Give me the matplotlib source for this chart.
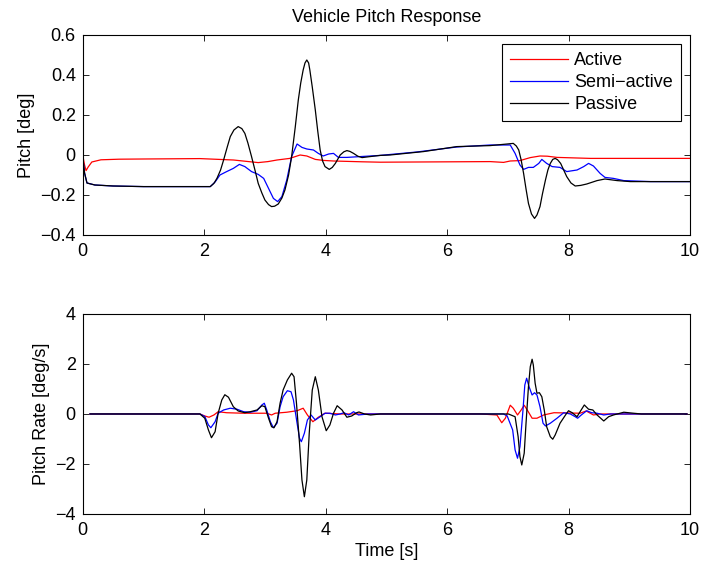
import matplotlib
matplotlib.use("Agg")
import matplotlib.pyplot as plt
from matplotlib.ticker import FuncFormatter

plt.rcParams["font.family"] = ["Liberation Sans", "DejaVu Sans"]

# pitch [deg] : (time s, value)
pitch_active = [
    (0.00, 0.000), (0.03, -0.050), (0.055, -0.078), (0.09, -0.060), (0.15, -0.035),
    (0.30, -0.024), (0.60, -0.021), (1.00, -0.020), (1.93, -0.018), (2.48, -0.025),
    (2.70, -0.032), (2.89, -0.038), (3.05, -0.033), (3.20, -0.025), (3.41, -0.017),
    (3.58, 0.000), (3.69, -0.005), (3.83, -0.022), (3.96, -0.027), (4.13, -0.030),
    (4.60, -0.034), (4.90, -0.036), (6.71, -0.033), (6.93, -0.037), (7.04, -0.030),
    (7.20, -0.028), (7.37, -0.013), (7.53, -0.005), (7.65, -0.006), (7.81, -0.012),
    (8.36, -0.017), (10.0, -0.017),
]
pitch_semi = [
    (0.00, -0.010), (0.03, -0.090), (0.07, -0.140), (0.20, -0.150), (0.50, -0.155),
    (1.00, -0.158), (2.10, -0.158), (2.18, -0.135), (2.26, -0.100), (2.37, -0.083),
    (2.48, -0.067), (2.58, -0.047), (2.67, -0.058), (2.78, -0.083), (2.89, -0.097),
    (2.98, -0.117), (3.06, -0.167), (3.14, -0.217), (3.21, -0.233), (3.28, -0.208),
    (3.36, -0.125), (3.44, -0.008), (3.53, 0.055), (3.61, 0.038), (3.69, 0.030),
    (3.80, 0.025), (3.88, 0.008), (3.96, -0.005), (4.05, 0.005), (4.13, 0.008),
    (4.21, -0.012), (4.35, -0.012), (4.57, -0.008), (4.90, -0.002), (5.50, 0.015),
    (6.16, 0.040), (6.71, 0.050), (7.04, 0.050), (7.12, 0.008), (7.20, -0.050),
    (7.26, -0.072), (7.34, -0.062), (7.42, -0.062), (7.51, -0.042), (7.56, -0.022),
    (7.64, -0.042), (7.73, -0.058), (7.86, -0.062), (7.97, -0.083), (8.14, -0.075),
    (8.25, -0.058), (8.33, -0.042), (8.41, -0.055), (8.52, -0.092), (8.60, -0.112),
    (8.74, -0.117), (8.91, -0.128), (9.35, -0.133), (10.0, -0.133),
]
pitch_passive = [
    (0.00, -0.010), (0.03, -0.090), (0.07, -0.140), (0.20, -0.150), (0.50, -0.155),
    (1.00, -0.158), (2.10, -0.158), (2.16, -0.142), (2.21, -0.117), (2.27, -0.075),
    (2.32, -0.025), (2.38, 0.040), (2.43, 0.092), (2.49, 0.125), (2.56, 0.142),
    (2.62, 0.132), (2.67, 0.108), (2.72, 0.060), (2.78, -0.008), (2.84, -0.080),
    (2.89, -0.142), (2.95, -0.190), (3.00, -0.225), (3.06, -0.248), (3.11, -0.258),
    (3.16, -0.256), (3.22, -0.245), (3.28, -0.215), (3.33, -0.175), (3.39, -0.100),
    (3.44, -0.008), (3.50, 0.140), (3.55, 0.275), (3.59, 0.360), (3.63, 0.425),
    (3.66, 0.460), (3.69, 0.475), (3.72, 0.460), (3.74, 0.425), (3.78, 0.340),
    (3.83, 0.225), (3.87, 0.120), (3.91, 0.025), (3.95, -0.030), (3.99, -0.058),
    (4.06, -0.072), (4.11, -0.062), (4.16, -0.042), (4.24, 0.000), (4.30, 0.016),
    (4.35, 0.022), (4.40, 0.018), (4.46, 0.008), (4.53, -0.006), (4.60, -0.013),
    (4.73, -0.008), (4.90, -0.002), (5.06, 0.000), (5.61, 0.017), (6.16, 0.042),
    (6.71, 0.047), (6.99, 0.055), (7.09, 0.058), (7.14, 0.045), (7.18, 0.025),
    (7.22, -0.025), (7.26, -0.092), (7.30, -0.170), (7.34, -0.242), (7.39, -0.295),
    (7.44, -0.317), (7.48, -0.300), (7.53, -0.258), (7.57, -0.195), (7.62, -0.125),
    (7.66, -0.075), (7.70, -0.042), (7.74, -0.022), (7.78, -0.017), (7.82, -0.024),
    (7.87, -0.042), (7.92, -0.075), (7.97, -0.108), (8.04, -0.140), (8.11, -0.155),
    (8.20, -0.152), (8.30, -0.145), (8.47, -0.128), (8.60, -0.120), (8.80, -0.128),
    (9.02, -0.133), (9.35, -0.133), (10.0, -0.133),
]

# pitch rate [deg/s] : (time s, value)
rate_active = [
    (0.12, 0.0), (1.93, 0.0), (2.01, -0.08), (2.08, -0.13), (2.16, -0.04), (2.23, 0.09),
    (2.37, 0.05), (2.65, 0.03), (3.03, 0.03), (3.11, -0.04), (3.17, 0.03), (3.36, 0.07),
    (3.53, 0.13), (3.63, 0.23), (3.70, -0.04), (3.79, -0.31), (3.88, -0.13), (3.99, 0.03),
    (4.24, 0.0), (6.55, 0.0), (6.82, -0.04), (6.90, -0.35), (6.96, -0.17), (7.04, 0.35),
    (7.09, 0.23), (7.16, -0.04), (7.22, 0.16), (7.27, 0.35), (7.32, 0.16), (7.40, -0.17),
    (7.48, -0.17), (7.59, -0.04), (7.76, 0.05), (8.19, 0.03), (8.29, 0.12), (8.41, -0.04),
    (8.52, 0.0), (9.95, 0.0),
]
rate_semi = [
    (0.12, 0.0), (1.93, 0.0), (2.01, -0.10), (2.07, -0.44), (2.11, -0.55), (2.18, -0.31),
    (2.23, 0.03), (2.32, 0.16), (2.43, 0.23), (2.54, 0.19), (2.65, 0.09), (2.76, 0.07),
    (2.87, 0.13), (2.95, 0.36), (2.99, 0.43), (3.03, 0.16), (3.09, -0.31), (3.14, -0.55),
    (3.20, -0.37), (3.25, 0.29), (3.30, 0.69), (3.37, 0.93), (3.43, 0.89), (3.47, 0.56),
    (3.53, -0.37), (3.57, -0.97), (3.60, -1.11), (3.65, -0.77), (3.70, -0.24), (3.76, -0.04),
    (3.83, -0.24), (3.91, -0.11), (3.99, 0.03), (4.07, 0.03), (4.16, -0.04), (4.24, 0.0),
    (4.30, 0.05), (4.38, -0.04), (4.46, 0.09), (4.54, -0.04), (4.70, 0.0), (6.93, 0.0),
    (6.99, -0.08), (7.08, -0.64), (7.12, -1.44), (7.16, -1.77), (7.20, -1.31), (7.25, 0.16),
    (7.28, 1.16), (7.31, 1.43), (7.35, 1.09), (7.40, 0.76), (7.44, 0.85), (7.48, 0.76),
    (7.53, 0.29), (7.58, -0.37), (7.62, -0.48), (7.70, -0.37), (7.81, -0.17), (7.92, 0.05),
    (8.03, 0.0), (8.11, -0.11), (8.15, -0.17), (8.21, -0.04), (8.30, 0.13), (8.38, 0.05),
    (8.47, 0.03), (8.58, -0.04), (8.69, 0.0), (9.95, 0.0),
]
rate_passive = [
    (0.12, 0.0), (1.93, 0.0), (2.01, -0.17), (2.07, -0.64), (2.12, -0.95), (2.18, -0.71),
    (2.23, 0.03), (2.29, 0.56), (2.34, 0.77), (2.40, 0.67), (2.48, 0.29), (2.56, 0.12),
    (2.67, 0.05), (2.76, 0.09), (2.87, 0.16), (2.95, 0.33), (3.00, 0.29), (3.06, -0.17),
    (3.11, -0.51), (3.15, -0.55), (3.20, -0.31), (3.25, 0.43), (3.30, 0.96), (3.37, 1.36),
    (3.44, 1.63), (3.48, 1.49), (3.52, 0.43), (3.57, -1.17), (3.61, -2.64), (3.65, -3.31),
    (3.69, -2.64), (3.73, -0.77), (3.78, 0.96), (3.83, 1.49), (3.88, 0.96), (3.94, -0.11),
    (4.01, -0.67), (4.07, -0.44), (4.13, 0.03), (4.19, 0.33), (4.27, 0.16), (4.35, -0.13),
    (4.43, -0.08), (4.51, 0.05), (4.55, 0.08), (4.64, 0.0), (4.74, -0.04), (4.90, 0.0),
    (7.01, 0.0), (7.12, -0.11), (7.17, -0.91), (7.20, -1.71), (7.23, -2.04), (7.27, -1.57),
    (7.30, -0.37), (7.34, 1.09), (7.37, 1.89), (7.40, 2.19), (7.42, 1.96), (7.45, 1.23),
    (7.48, 0.83), (7.52, 0.85), (7.56, 0.69), (7.60, 0.16), (7.64, -0.51), (7.70, -0.91),
    (7.74, -1.01), (7.78, -0.84), (7.86, -0.37), (7.95, -0.04), (8.00, 0.13), (8.06, 0.05),
    (8.14, -0.11), (8.19, 0.09), (8.26, 0.36), (8.33, 0.19), (8.40, 0.16), (8.47, -0.04),
    (8.58, -0.28), (8.66, -0.11), (8.74, -0.04), (8.91, 0.07), (9.07, 0.03), (9.20, 0.0),
    (9.95, 0.0),
]

labels = ["Active", "Semi\u2212active", "Passive"]
colors = ["#ff0000", "#0000ff", "#000000"]
x_ticks = [0, 2, 4, 6, 8, 10]
pitch_ticks = [-0.4, -0.2, 0, 0.2, 0.4, 0.6]
rate_ticks = [-4, -2, 0, 2, 4]

FS = 13


def fmt(v, _pos):
    return ("%g" % round(v, 6)).replace("-", "\u2212")


def style(ax):
    ax.set_xlim(0, 10)
    ax.set_xticks(x_ticks)
    ax.xaxis.set_major_formatter(FuncFormatter(fmt))
    ax.yaxis.set_major_formatter(FuncFormatter(fmt))
    ax.tick_params(direction="in", top=True, right=True, length=4, width=0.6,
                   labelsize=FS, pad=5)
    ax.tick_params(axis="x", pad=6)
    for s in ax.spines.values():
        s.set_linewidth(0.8)


fig = plt.figure(figsize=(7.04, 5.69), dpi=100)
ax1 = fig.add_axes([0.1175, 0.587, 0.8626, 0.3515])
ax2 = fig.add_axes([0.1175, 0.0967, 0.8626, 0.3515])

for series, lab, col in zip([pitch_active, pitch_semi, pitch_passive], labels, colors):
    t, v = zip(*series)
    ax1.plot(t, v, color=col, lw=0.9, label=lab)
for series, col in zip([rate_active, rate_semi, rate_passive], colors):
    t, v = zip(*series)
    ax2.plot(t, v, color=col, lw=0.9)

style(ax1)
ax1.set_ylim(-0.4, 0.6)
ax1.set_yticks(pitch_ticks)
ax1.set_ylabel("Pitch [deg]", fontsize=FS)
ax1.set_title("Vehicle Pitch Response", fontsize=FS, pad=9)
leg = ax1.legend(loc="upper right", bbox_to_anchor=(0.985, 0.955), fontsize=FS,
                 handlelength=3.2, handletextpad=0.35, labelspacing=0.28,
                 borderpad=0.45, borderaxespad=0, fancybox=False, framealpha=1,
                 edgecolor="black")
leg.get_frame().set_linewidth(0.8)

style(ax2)
ax2.set_ylim(-4, 4)
ax2.set_yticks(rate_ticks)
ax2.set_ylabel("Pitch Rate [deg/s]", fontsize=FS)
ax2.set_xlabel("Time [s]", fontsize=FS, labelpad=3)

fig.savefig("out.png", dpi=100)
